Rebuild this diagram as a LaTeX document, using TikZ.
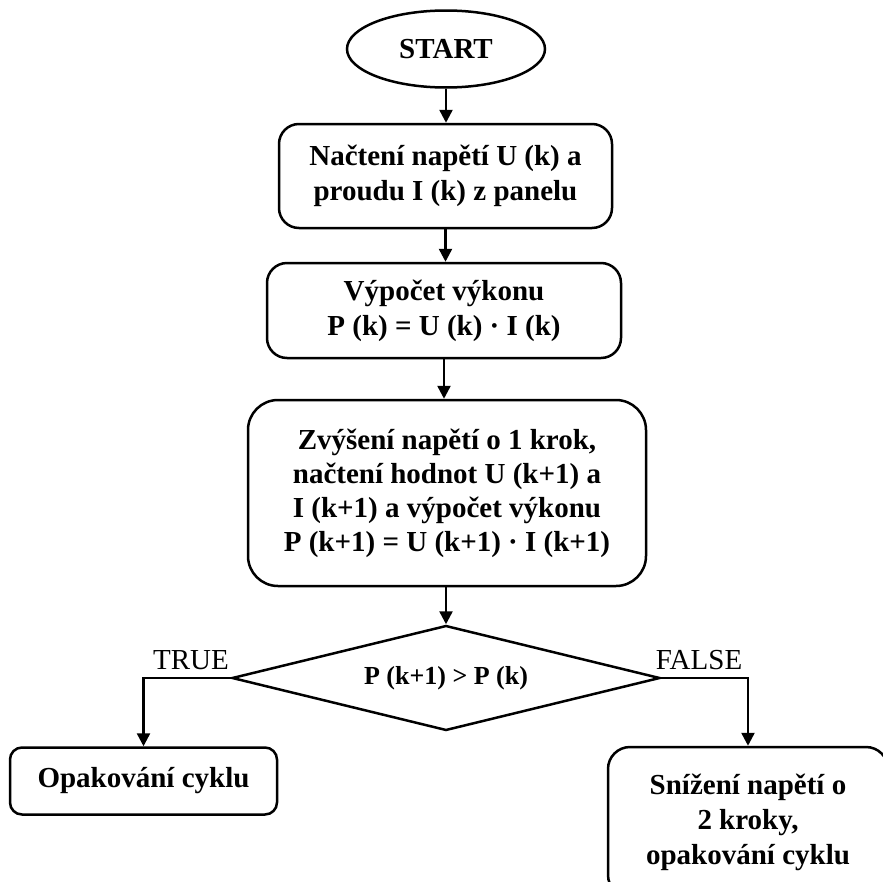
\documentclass[tikz,border=0pt]{standalone}
\usepackage{fontspec}
\setmainfont{Liberation Serif}
\usetikzlibrary{shapes.geometric,arrows.meta}
\tikzset{
  every node/.style={font=\fontsize{29}{35}\selectfont\bfseries, align=center},
  procbox/.style={draw, line width=2.5pt, rounded corners=20pt, inner sep=0pt},
  flow/.style={draw, line width=2.5pt, -{Triangle[length=13pt,width=13pt]}},
  lbl/.style={font=\fontsize{29}{34}\selectfont\mdseries, inner sep=0pt, anchor=base}
}
\begin{document}
\begin{tikzpicture}[x=1pt,y=-1pt]
\useasboundingbox (0,0) rectangle (883,881);
\node[draw, ellipse, line width=2.5pt, minimum width=198pt, minimum height=77pt, inner sep=0pt] (start) at (446,49) {START};
\node[procbox, minimum width=333pt, minimum height=104pt] (b1) at (445.5,176) {Načtení napětí U (k) a\\proudu I (k) z panelu};
\node[procbox, minimum width=354pt, minimum height=95pt] (b2) at (444,310.5) {Výpočet výkonu\\P (k) = U (k) · I (k)};
\node[procbox, rounded corners=30pt, minimum width=398pt, minimum height=186pt, font=\fontsize{29}{34}\selectfont\bfseries] (b3) at (447,493) {Zvýšení napětí o 1 krok,\\načtení hodnot U (k+1) a\\I (k+1) a výpočet výkonu\\P (k+1) = U (k+1) · I (k+1)};
\node[draw, diamond, aspect=4.08, line width=2.5pt, inner sep=0pt, minimum width=428pt, minimum height=105pt, font=\fontsize{26}{30}\selectfont\bfseries] (dec) at (446,678) {P (k+1) > P (k)};
\node[procbox, rounded corners=12pt, minimum width=267pt, minimum height=67pt] (opak) at (143.5,781) {Opakování cyklu};
\node[procbox, rounded corners=22pt, minimum width=280pt, minimum height=150pt] (sniz) at (748,822) {Snížení napětí o\\2 kroky,\\opakování cyklu};
\path[flow] (start.south) -- (start.south |- b1.north);
\path[flow] (b1.south) -- (b1.south |- b2.north);
\path[flow] (b2.south) -- (b2.south |- b3.north);
\path[flow] (dec.north |- b3.south) -- (dec.north);
\path[flow] (dec.west) -| (opak.north);
\path[flow] (dec.east) -| (sniz.north);
\node[lbl] (t) at (191,669) {TRUE};
\node[lbl] (f) at (699,669) {FALSE};
\end{tikzpicture}
\end{document}
